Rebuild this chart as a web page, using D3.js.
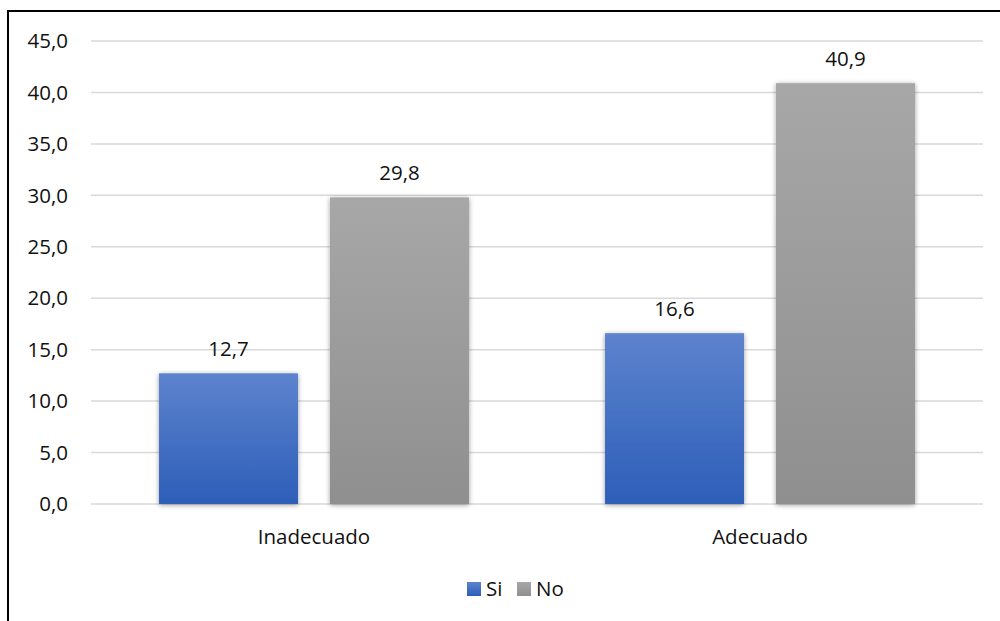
<!DOCTYPE html>
<html><head><meta charset="utf-8">
<script src="https://cdn.jsdelivr.net/npm/d3@7"></script>
<style>body{margin:0;background:#fff}svg{display:block}text{font-family:"Open Sans","Noto Sans",sans-serif;fill:#111}</style>
</head><body>
<svg id="chart" width="1000" height="621"></svg>
<script>
const categories = ["Inadecuado", "Adecuado"];
const seriesNames = ["Si", "No"];
const siValues = [12.7, 16.6];
const noValues = [29.8, 40.9];
const yTicks = [0, 5, 10, 15, 20, 25, 30, 35, 40, 45];

const svg = d3.select("#chart");
const defs = svg.append("defs");
const gradColors = {Si: ["#5d83cd", "#2d5eb9"], No: ["#a7a7a7", "#8f8f8f"]};
seriesNames.forEach(s => {
  const g = defs.append("linearGradient").attr("id", "g" + s).attr("x1", 0).attr("y1", 0).attr("x2", 0).attr("y2", 1);
  g.append("stop").attr("offset", "0%").attr("stop-color", gradColors[s][0]);
  g.append("stop").attr("offset", "100%").attr("stop-color", gradColors[s][1]);
});
const f = defs.append("filter").attr("id", "shadow").attr("x", "-20%").attr("y", "-20%").attr("width", "140%").attr("height", "140%");
f.append("feDropShadow").attr("dx", 0).attr("dy", 1).attr("stdDeviation", 2.5).attr("flood-color", "#000").attr("flood-opacity", 0.4);

// border
svg.append("rect").attr("x", 8).attr("y", 11).attr("width", 1100).attr("height", 700)
  .attr("fill", "none").attr("stroke", "#000").attr("stroke-width", 2);

const plotLeft = 91, plotRight = 983, plotTop = 41, plotBottom = 504;
const y = d3.scaleLinear().domain([0, 45]).range([plotBottom, plotTop]);
const x0 = d3.scaleBand().domain(categories).range([plotLeft, plotRight]).padding(0);
const x1 = d3.scaleBand().domain(seriesNames).range([0, x0.bandwidth()]).paddingInner(0.187).paddingOuter(0.398);

const fs = "20.5px";

// gridlines
svg.append("g").selectAll("line").data(yTicks).join("line")
  .attr("x1", plotLeft).attr("x2", plotRight).attr("y1", d => y(d)).attr("y2", d => y(d))
  .attr("stroke", "#d9d9d9").attr("stroke-width", 1.5);

// y labels
svg.append("g").selectAll("text").data(yTicks).join("text")
  .attr("x", 68).attr("y", d => y(d)).attr("dy", "0.35em").attr("text-anchor", "end")
  .style("font-size", fs).text(d => d.toFixed(1).replace(".", ","));

const data = categories.map((c, i) => ({cat: c, vals: [{s: "Si", v: siValues[i]}, {s: "No", v: noValues[i]}]}));
const groups = svg.append("g").selectAll("g").data(data).join("g")
  .attr("transform", d => `translate(${x0(d.cat)},0)`);
groups.selectAll("rect").data(d => d.vals).join("rect")
  .attr("x", d => x1(d.s)).attr("width", x1.bandwidth())
  .attr("y", d => y(d.v)).attr("height", d => y(0) - y(d.v))
  .attr("fill", d => `url(#g${d.s})`).attr("filter", "url(#shadow)");
groups.selectAll("text").data(d => d.vals).join("text")
  .attr("x", d => x1(d.s) + x1.bandwidth() / 2).attr("y", d => y(d.v) - 17)
  .attr("text-anchor", "middle").style("font-size", fs)
  .text(d => d.v.toFixed(1).replace(".", ","));

// category labels
svg.append("g").selectAll("text").data(categories).join("text")
  .attr("x", d => x0(d) + x0.bandwidth() / 2).attr("y", 537).attr("dy", "0.35em")
  .attr("text-anchor", "middle").style("font-size", fs).text(d => d);

// legend
const legend = svg.append("g");
const legX = [467, 517];
seriesNames.forEach((s, i) => {
  legend.append("rect").attr("x", legX[i]).attr("y", 582).attr("width", 14).attr("height", 14).attr("fill", `url(#g${s})`);
  legend.append("text").attr("x", legX[i] + 19).attr("y", 589).attr("dy", "0.35em").style("font-size", fs).text(s);
});
</script>
</body></html>
